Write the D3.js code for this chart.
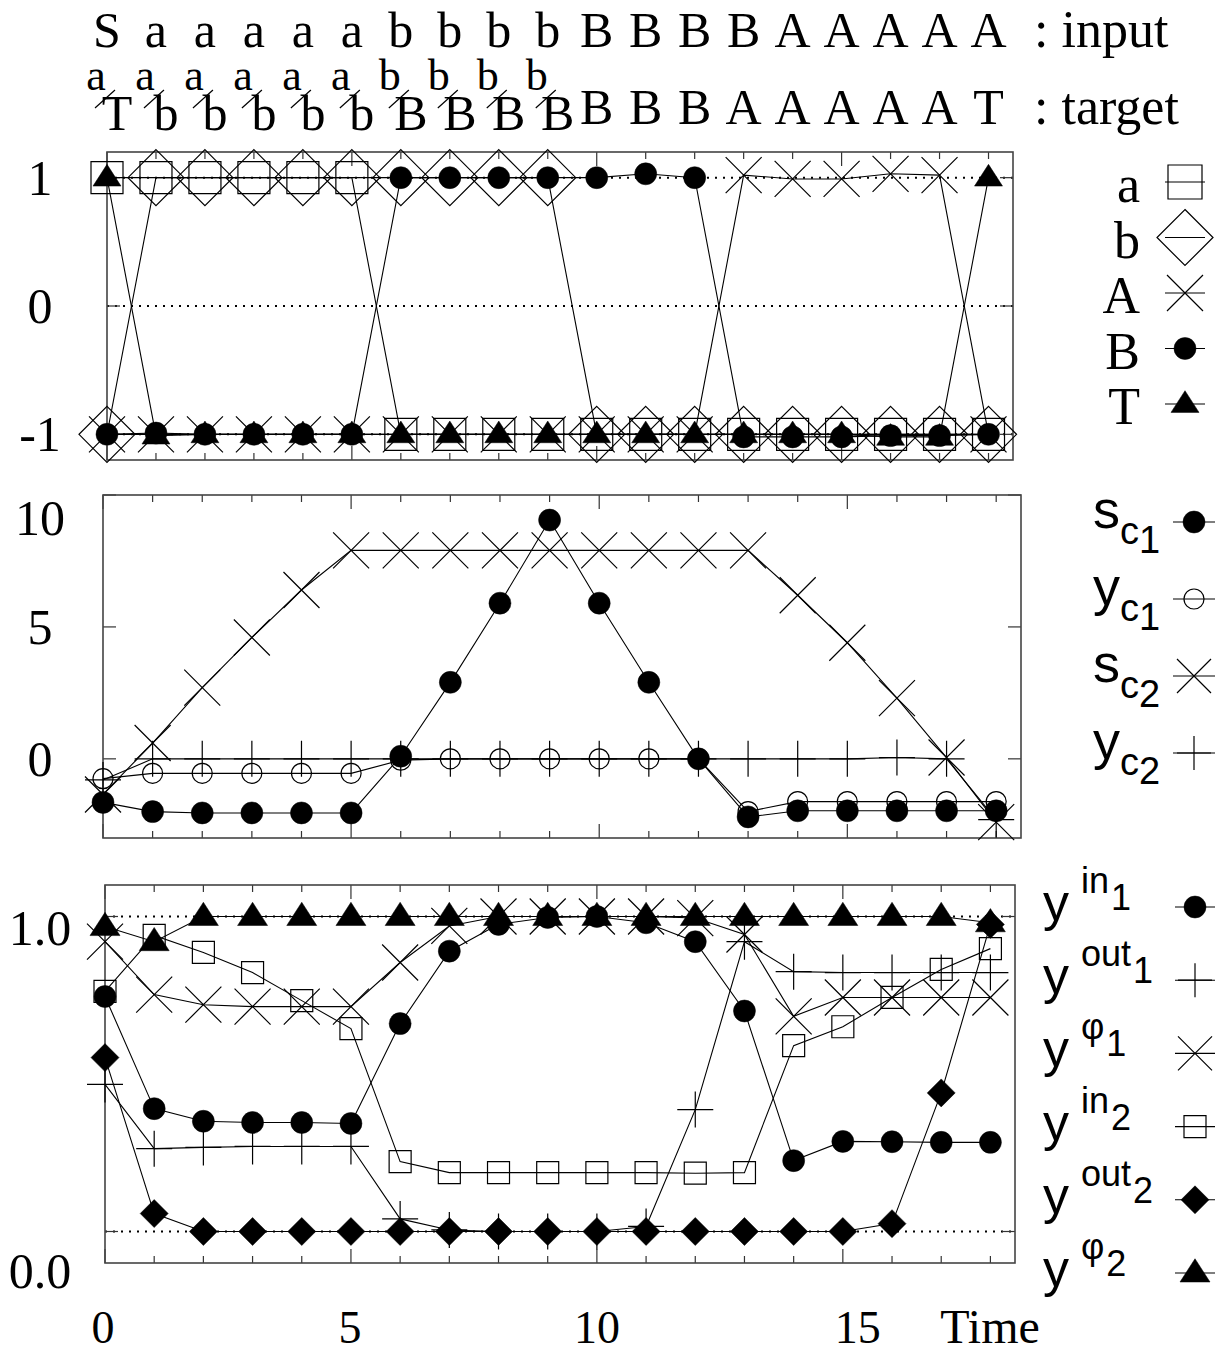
<!DOCTYPE html>
<html><head><meta charset="utf-8">
<script src="https://cdn.jsdelivr.net/npm/d3@7"></script>
<style>body{margin:0;background:#fff}</style>
</head><body><svg id="c" width="1225" height="1356" xmlns="http://www.w3.org/2000/svg"></svg>
<script>
// ---------------- data ----------------
const time = d3.range(0, 19);
const inputSeq  = ["S","a","a","a","a","a","b","b","b","b","B","B","B","B","A","A","A","A","A"];
const targetNum = ["a","a","a","a","a","a","b","b","b","b","","","","","","","","",""];
const targetDen = ["T","b","b","b","b","b","B","B","B","B","B","B","B","A","A","A","A","A","T"];

// panel 1: network outputs
const out_a = [1,1,1,1,1,1,-1,-1,-1,-1,-1,-1,-1,-1,-1,-1,-1,-1,-1];
const out_b = [-1,1,1,1,1,1,1,1,1,1,-1,-1,-1,-1,-1,-1,-1,-1,-1];
const out_A = [-1,-1,-1,-1,-1,-1,-1,-1,-1,-1,-1,-1,-1,1.02,0.99,0.99,1.03,1.02,-1];
const out_B = [-1,-0.99,-1,-1,-1,-1,1,1,1,1,1,1.03,1,-1.02,-1.02,-1.02,-1.01,-1.01,-1];
const out_T = [1,-1.01,-1,-1,-1,-1,-1,-1,-1,-1,-1,-1,-1,-1,-1,-1,-1.02,-1.02,1];
const p1Ticks = [1, 0, -1];

// panel 2: cell states and outputs
const s_c1 = [-1.65,-2.0,-2.05,-2.05,-2.05,-2.05,0.1,2.9,5.9,9.05,5.9,2.9,0.0,-2.2,-1.97,-1.97,-1.97,-1.97,-1.97];
const y_c1 = [-0.75,-0.55,-0.55,-0.55,-0.55,-0.55,-0.05,0,0,0,0,0,0,-2.0,-1.62,-1.62,-1.62,-1.62,-1.62];
const s_c2 = [-1.35,0.6,2.7,4.6,6.4,7.9,7.9,7.9,7.9,7.9,7.9,7.9,7.9,7.9,6.2,4.4,2.3,0.05,-2.4];
const y_c2 = [-0.8,0,0,0,0,0,0,0,0,0,0,0,0,0,0,0,0.05,0,-2.3];
const p2Ticks = [10, 5, 0];

// panel 3: gate activations
const y_in1  = [0.746,0.39,0.35,0.346,0.346,0.343,0.66,0.89,0.975,0.997,1.0,0.98,0.92,0.70,0.225,0.286,0.285,0.283,0.283];
const y_out1 = [0.467,0.263,0.267,0.27,0.27,0.27,0.04,0.005,0.0,0.0,0.0,0.016,0.387,0.92,0.825,0.822,0.822,0.822,0.822];
const y_phi1 = [0.92,0.752,0.72,0.714,0.714,0.714,0.854,0.97,1.0,1.0,1.0,1.0,0.995,0.943,0.683,0.743,0.743,0.743,0.743];
const y_in2  = [0.762,0.94,0.886,0.822,0.733,0.644,0.222,0.187,0.187,0.187,0.187,0.187,0.185,0.187,0.59,0.65,0.743,0.832,0.898];
const y_out2 = [0.552,0.057,0,0,0,0,0,0,0,0,0,0,0,0,0,0,0.025,0.44,0.975];
const y_phi2 = [0.968,0.92,1,1,1,1,1,1,1,1,1,1,1,1,1,1,1,1,0.98];
const p3Ticks = ["1.0", "0.0"];
const xTickLabels = [0, 5, 10, 15];

// ---------------- drawing ----------------
const svg = d3.select("#c");
const SERIF = "'Liberation Serif','Times New Roman',serif";
const SANS = "'Liberation Sans',Arial,sans-serif";

function markerPath(type, s) {
  switch (type) {
    case "square": return `M${-s},${-s}h${2*s}v${2*s}h${-2*s}Z`;
    case "diamond": case "diamondF": return `M0,${-s}L${s},0L0,${s}L${-s},0Z`;
    case "cross": return `M${-s},${-s}L${s},${s}M${-s},${s}L${s},${-s}`;
    case "plus": return `M${-s},0H${s}M0,${-s}V${s}`;
    case "tri": return `M0,${-s*0.95}L${s},${s*0.6}L${-s},${s*0.6}Z`;
    case "circle": case "circleF": return d3.arc()({innerRadius:0,outerRadius:s,startAngle:0,endAngle:2*Math.PI});
  }
}
const filled = t => ["diamondF","tri","circleF"].includes(t);

function drawMarker(g, type, size, x, y) {
  g.append("path").attr("d", markerPath(type, size))
    .attr("transform", `translate(${x},${y})`)
    .attr("fill", filled(type) ? "#000" : "none")
    .attr("stroke", "#000")
    .attr("stroke-width", filled(type) ? 0.5 : 1.2);
}

function drawSeries(g, xs, ys, vals, type, size) {
  const line = d3.line().x((d, i) => xs(time[i])).y(d => ys(d));
  g.append("path").attr("d", line(vals)).attr("fill", "none")
    .attr("stroke", "#000").attr("stroke-width", 1.1);
  vals.forEach((v, i) => drawMarker(g, type, size, xs(time[i]), ys(v)));
}

function frame(xs, ys, yTickVals) {
  const [x0, x1] = xs.range(); const [y0, y1] = ys.range();
  const g = svg.append("g");
  time.forEach(t => {
    const len = t % 5 === 0 ? 14 : 7;
    g.append("line").attr("x1", xs(t)).attr("x2", xs(t)).attr("y1", y1).attr("y2", y1 + len);
    g.append("line").attr("x1", xs(t)).attr("x2", xs(t)).attr("y1", y0).attr("y2", y0 - len);
  });
  yTickVals.forEach(v => {
    g.append("line").attr("x1", x0).attr("x2", x0 + 13).attr("y1", ys(v)).attr("y2", ys(v));
    g.append("line").attr("x1", x1).attr("x2", x1 - 13).attr("y1", ys(v)).attr("y2", ys(v));
  });
  g.selectAll("line").attr("stroke", "#333").attr("stroke-width", 1.2);
  g.append("rect").attr("x", x0).attr("y", y1).attr("width", x1 - x0).attr("height", y0 - y1)
    .attr("fill", "none").attr("stroke", "#444").attr("stroke-width", 1.6);
}

function dotted(xs, ys, v) {
  const [x0, x1] = xs.range();
  svg.append("line").attr("x1", x0).attr("x2", x1).attr("y1", ys(v)).attr("y2", ys(v))
    .attr("stroke", "#000").attr("stroke-width", 2).attr("stroke-dasharray", "2,6");
}

function serifText(x, y, txt, size, anchor) {
  return svg.append("text").attr("x", x).attr("y", y).text(txt)
    .attr("font-family", SERIF).attr("font-size", size)
    .attr("text-anchor", anchor || "middle").attr("fill", "#000");
}

// scales
const x1s = d3.scaleLinear().domain([0, 18.5]).range([107, 1013]);
const y1s = d3.scaleLinear().domain([-1.2, 1.2]).range([460, 152]);
const x2s = d3.scaleLinear().domain([0, 18.5]).range([103, 1021]);
const y2s = d3.scaleLinear().domain([-3, 10]).range([838, 495]);
const x3s = d3.scaleLinear().domain([0, 18.5]).range([105, 1015]);
const y3s = d3.scaleLinear().domain([-0.1, 1.1]).range([1263, 885]);

// ---- header ----
inputSeq.forEach((s, i) => serifText(x1s(time[i]), 47, s, 50));
targetDen.forEach((s, i) => {
  const x = x1s(time[i]);
  if (targetNum[i]) {
    serifText(x - 11, 90, targetNum[i], 44);
    svg.append("line").attr("x1", x - 12).attr("y1", 108).attr("x2", x + 8).attr("y2", 90)
      .attr("stroke", "#000").attr("stroke-width", 1.2);
    serifText(x + 10, 130, s, 50);
  } else {
    serifText(x, 124, s, 50);
  }
});
serifText(1034, 47, ": input", 52, "start");
serifText(1034, 124, ": target", 52, "start");

// ---- panel 1 ----
p1Ticks.forEach(v => dotted(x1s, y1s, v));
frame(x1s, y1s, p1Ticks);
const g1 = svg.append("g");
const p1Series = [
  {name: "a", vals: out_a, type: "square", size: 16},
  {name: "b", vals: out_b, type: "diamond", size: 28},
  {name: "A", vals: out_A, type: "cross", size: 18},
  {name: "B", vals: out_B, type: "circleF", size: 11},
  {name: "T", vals: out_T, type: "tri", size: 14}
];
p1Series.forEach(s => drawSeries(g1, x1s, y1s, s.vals, s.type, s.size));
p1Ticks.forEach(v => serifText(40, y1s(v) + 17, String(v), 50));
p1Series.forEach((s, i) => {
  const my = 182 + i * 55.5;
  svg.append("line").attr("x1", 1165).attr("x2", 1205).attr("y1", my).attr("y2", my)
    .attr("stroke", "#000").attr("stroke-width", 1.1);
  drawMarker(svg, s.type, s.type === "square" ? 17 : s.size, 1185, my);
  serifText(1140, my + 20, s.name, 52, "end");
});

// ---- panel 2 ----
frame(x2s, y2s, p2Ticks);
const g2 = svg.append("g");
const p2Series = [
  {base: "s", sub: "c", idx: "1", vals: s_c1, type: "circleF", size: 11},
  {base: "y", sub: "c", idx: "1", vals: y_c1, type: "circle", size: 10},
  {base: "s", sub: "c", idx: "2", vals: s_c2, type: "cross", size: 18},
  {base: "y", sub: "c", idx: "2", vals: y_c2, type: "plus", size: 18}
];
p2Series.forEach(s => drawSeries(g2, x2s, y2s, s.vals, s.type, s.size));
const p2LabelShift = {10: 23, 5: 0, 0: 0};
p2Ticks.forEach(v => serifText(40, y2s(v) + 17 + p2LabelShift[v], String(v), 50));
p2Series.forEach((s, i) => {
  const my = 522 + i * 77;
  svg.append("line").attr("x1", 1173).attr("x2", 1215).attr("y1", my).attr("y2", my)
    .attr("stroke", "#000").attr("stroke-width", 1.1);
  drawMarker(svg, s.type, s.type === "circleF" ? 11 : s.type === "circle" ? 10 : 17, 1194, my);
  const t = svg.append("text").attr("x", 1093).attr("y", my + 6)
    .attr("font-family", SANS).attr("fill", "#000");
  t.append("tspan").attr("font-size", 54).text(s.base);
  t.append("tspan").attr("font-size", 38).attr("dy", 16).text(s.sub);
  t.append("tspan").attr("font-size", 38).attr("dy", 9).text(s.idx);
});

// ---- panel 3 ----
[1, 0].forEach(v => dotted(x3s, y3s, v));
frame(x3s, y3s, [1, 0]);
const g3 = svg.append("g");
const p3Series = [
  {sup: "in",  idx: "1", vals: y_in1,  type: "circleF",  size: 11},
  {sup: "out", idx: "1", vals: y_out1, type: "plus",     size: 18},
  {sup: "φ",   idx: "1", vals: y_phi1, type: "cross",    size: 18},
  {sup: "in",  idx: "2", vals: y_in2,  type: "square",   size: 11},
  {sup: "out", idx: "2", vals: y_out2, type: "diamondF", size: 14},
  {sup: "φ",   idx: "2", vals: y_phi2, type: "tri",      size: 15}
];
p3Series.forEach(s => drawSeries(g3, x3s, y3s, s.vals, s.type, s.size));
const p3LabelShift = {"1.0": 11, "0.0": 39};
p3Ticks.forEach(l => serifText(40, y3s(+l) + 17 + p3LabelShift[l], l, 50));
p3Series.forEach((s, i) => {
  const my = 907 + i * 73.2;
  svg.append("line").attr("x1", 1175).attr("x2", 1215).attr("y1", my).attr("y2", my)
    .attr("stroke", "#000").attr("stroke-width", 1.1);
  const sz = {circleF: 11, plus: 17, cross: 17, square: 11, diamondF: 14, tri: 15}[s.type];
  drawMarker(svg, s.type, sz, 1195, my);
  const t = svg.append("text").attr("x", 1043).attr("y", my + 13)
    .attr("font-family", SANS).attr("fill", "#000");
  t.append("tspan").attr("font-size", 52).text("y");
  t.append("tspan").attr("font-size", 36).attr("dx", 12).attr("dy", -27).text(s.sup);
  t.append("tspan").attr("font-size", 36).attr("dx", 2).attr("dy", 17).text(s.idx);
});

// x tick labels
const xLabelShift = {0: -2, 5: -1, 10: 0, 15: 15};
xTickLabels.forEach(v => serifText(x3s(v) + xLabelShift[v], 1343, String(v), 46));
serifText(990, 1343, "Time", 48);
</script>
</body></html>
